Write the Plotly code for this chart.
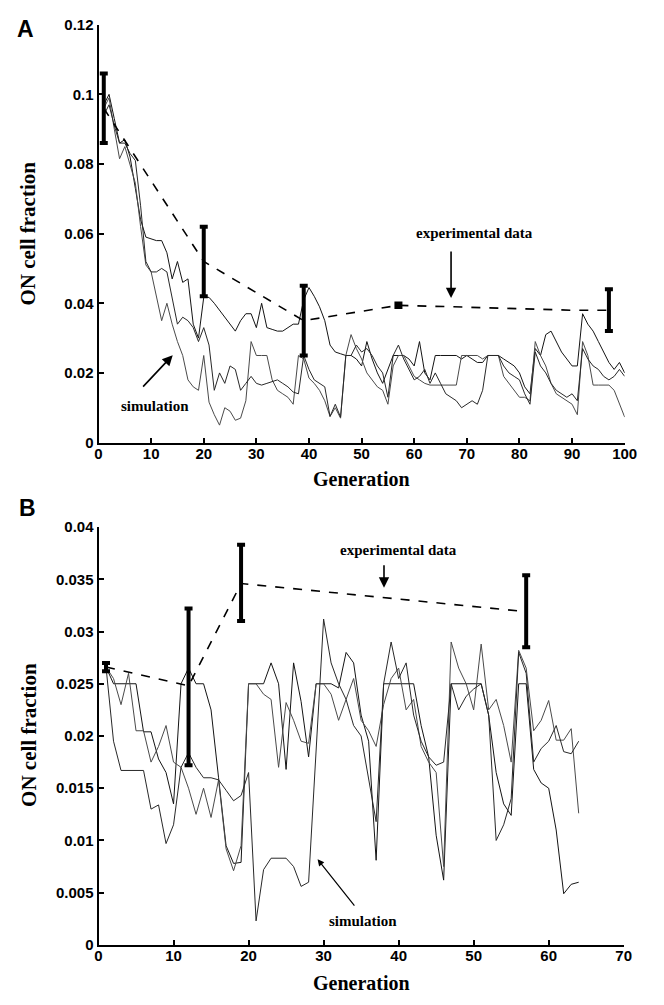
import plotly.graph_objects as go

# ---------------- Panel A data ----------------
gen_a = list(range(1, 101))
sim_a1 = [0.097, 0.100, 0.093, 0.086, 0.087, 0.082, 0.073, 0.064, 0.059, 0.0585,
          0.058, 0.058, 0.0545, 0.047, 0.052, 0.046, 0.047, 0.034, 0.030, 0.0417,
          0.0417, 0.040, 0.038, 0.036, 0.034, 0.032, 0.035, 0.037, 0.037, 0.033,
          0.040, 0.033, 0.0325, 0.032, 0.032, 0.033, 0.034, 0.034, 0.041, 0.0445,
          0.042, 0.039, 0.035, 0.028, 0.026, 0.0255, 0.025, 0.025, 0.024, 0.022,
          0.029, 0.024, 0.020, 0.017, 0.021, 0.025, 0.025, 0.025, 0.024, 0.022,
          0.029, 0.020, 0.018, 0.025, 0.025, 0.025, 0.025, 0.025, 0.024, 0.025,
          0.024, 0.023, 0.023, 0.025, 0.025, 0.025, 0.024, 0.023, 0.022, 0.020,
          0.016, 0.014, 0.027, 0.025, 0.031, 0.032, 0.029, 0.026, 0.024, 0.022,
          0.022, 0.037, 0.034, 0.032, 0.029, 0.026, 0.023, 0.021, 0.023, 0.020]
sim_a2 = [0.096, 0.099, 0.090, 0.0815, 0.085, 0.080, 0.0745, 0.062, 0.051, 0.049,
          0.042, 0.035, 0.040, 0.034, 0.029, 0.025, 0.018, 0.016, 0.015, 0.025,
          0.0116, 0.008, 0.005, 0.010, 0.009, 0.0064, 0.007, 0.012, 0.029, 0.025,
          0.025, 0.025, 0.018, 0.015, 0.014, 0.013, 0.011, 0.025, 0.024, 0.0185,
          0.017, 0.015, 0.012, 0.0075, 0.010, 0.007, 0.025, 0.031, 0.027, 0.024,
          0.020, 0.018, 0.016, 0.015, 0.011, 0.022, 0.025, 0.025, 0.022, 0.019,
          0.018, 0.017, 0.0165, 0.0165, 0.0165, 0.0165, 0.0165, 0.0165, 0.025, 0.025,
          0.025, 0.025, 0.024, 0.025, 0.025, 0.025, 0.019, 0.017, 0.015, 0.013,
          0.013, 0.012, 0.029, 0.025, 0.022, 0.017, 0.014, 0.013, 0.012, 0.011,
          0.008, 0.029, 0.025, 0.0165, 0.0165, 0.0165, 0.0165, 0.015, 0.011, 0.0073]
sim_a3 = [0.094, 0.097, 0.091, 0.086, 0.086, 0.083, 0.081, 0.068, 0.052, 0.049,
          0.049, 0.050, 0.049, 0.041, 0.034, 0.036, 0.035, 0.033, 0.029, 0.033,
          0.028, 0.015, 0.020, 0.017, 0.022, 0.021, 0.015, 0.017, 0.019, 0.017,
          0.0165, 0.017, 0.0175, 0.018, 0.017, 0.016, 0.0145, 0.014, 0.025, 0.021,
          0.018, 0.017, 0.016, 0.0075, 0.011, 0.0073, 0.025, 0.025, 0.028, 0.026,
          0.027, 0.025, 0.022, 0.020, 0.013, 0.025, 0.028, 0.024, 0.021, 0.018,
          0.019, 0.021, 0.017, 0.020, 0.017, 0.014, 0.013, 0.012, 0.010, 0.011,
          0.012, 0.011, 0.015, 0.025, 0.025, 0.025, 0.022, 0.020, 0.019, 0.018,
          0.014, 0.011, 0.026, 0.022, 0.020, 0.017, 0.015, 0.014, 0.013, 0.014,
          0.012, 0.027, 0.024, 0.022, 0.021, 0.019, 0.018, 0.019, 0.021, 0.019]

exp_a_gen = [1, 20, 39, 57, 67, 90, 97]
exp_a_val = [0.096, 0.052, 0.035, 0.0394, 0.039, 0.038, 0.038]
err_a_gen = [1, 20, 39, 57, 97]
err_a_val = [0.096, 0.052, 0.035, 0.0394, 0.038]
err_a_sd = [0.010, 0.010, 0.010, 0.0005, 0.006]

# ---------------- Panel B data ----------------
gen_b = list(range(1, 65))
sim_b1 = [0.0266, 0.025, 0.025, 0.025, 0.025, 0.0204, 0.0204, 0.0178, 0.0165, 0.0135,
          0.025, 0.0265, 0.025, 0.025, 0.0225, 0.016, 0.0095, 0.0078, 0.0079, 0.025,
          0.025, 0.025, 0.027, 0.025, 0.0168, 0.027, 0.0233, 0.018, 0.025, 0.025,
          0.025, 0.0246, 0.028, 0.027, 0.022, 0.0195, 0.0081, 0.025, 0.025, 0.025,
          0.025, 0.025, 0.021, 0.018, 0.0105, 0.0062, 0.025, 0.025, 0.025, 0.025,
          0.025, 0.022, 0.0165, 0.0135, 0.0124, 0.025, 0.025, 0.0168, 0.0155, 0.015,
          0.011, 0.0049, 0.0058, 0.006]
sim_b2 = [0.0266, 0.0255, 0.023, 0.026, 0.0205, 0.0205, 0.0175, 0.019, 0.021, 0.0175,
          0.017, 0.015, 0.0125, 0.015, 0.0122, 0.0158, 0.0092, 0.0071, 0.0095, 0.025,
          0.025, 0.024, 0.0235, 0.017, 0.0232, 0.0215, 0.0195, 0.0193, 0.025, 0.025,
          0.024, 0.0215, 0.0235, 0.0255, 0.0215, 0.0205, 0.019, 0.023, 0.0255, 0.0265,
          0.0225, 0.0235, 0.019, 0.0175, 0.0165, 0.0075, 0.029, 0.0265, 0.025, 0.0225,
          0.0288, 0.0225, 0.0235, 0.021, 0.0175, 0.0282, 0.0265, 0.0205, 0.0215, 0.0234,
          0.0196, 0.0196, 0.0207, 0.0126]
sim_b3 = [0.0266, 0.0195, 0.0167, 0.0167, 0.0167, 0.0167, 0.013, 0.0134, 0.0097, 0.0115,
          0.017, 0.0184, 0.017, 0.016, 0.016, 0.0158, 0.0148, 0.0138, 0.0143, 0.0165,
          0.0023, 0.0072, 0.0083, 0.0083, 0.0083, 0.0075, 0.0056, 0.006, 0.018, 0.0312,
          0.027, 0.025, 0.0235, 0.021, 0.020, 0.016, 0.0118, 0.025, 0.029, 0.0255,
          0.027, 0.022, 0.0195, 0.018, 0.0172, 0.0175, 0.025, 0.0225, 0.0238, 0.0245,
          0.025, 0.022, 0.010, 0.0115, 0.014, 0.028, 0.026, 0.0175, 0.0188, 0.0195,
          0.021, 0.0185, 0.0183, 0.0195]

exp_b_gen = [1, 12, 19, 57]
exp_b_val = [0.0266, 0.0248, 0.0346, 0.0319]
err_b_lo = [0.0004, 0.0076, 0.0036, 0.0034]
err_b_hi = [0.0004, 0.0074, 0.0037, 0.0035]

ticks_a = [0, 0.02, 0.04, 0.06, 0.08, 0.1, 0.12]
ticks_b = [0, 0.005, 0.01, 0.015, 0.02, 0.025, 0.03, 0.035, 0.04]

SIM_COLORS = ["#141414", "#4a4a4a", "#282828"]
SERIF = "Liberation Serif, Times New Roman, serif"
SANS = "Liberation Sans, Arial, sans-serif"

fig = go.Figure()

for ys, c in zip([sim_a1, sim_a2, sim_a3], SIM_COLORS):
    fig.add_trace(go.Scatter(x=gen_a, y=ys, mode="lines", line=dict(color=c, width=1),
                             xaxis="x", yaxis="y", showlegend=False))
fig.add_trace(go.Scatter(x=exp_a_gen, y=exp_a_val, mode="lines",
                         line=dict(color="black", width=1.6, dash="dash"),
                         xaxis="x", yaxis="y", showlegend=False))
fig.add_trace(go.Scatter(x=err_a_gen, y=err_a_val, mode="markers",
                         marker=dict(size=1, color="rgba(0,0,0,0)"),
                         error_y=dict(type="data", array=err_a_sd, color="black",
                                      thickness=4, width=4),
                         xaxis="x", yaxis="y", showlegend=False))

for ys, c in zip([sim_b1, sim_b2, sim_b3], SIM_COLORS):
    fig.add_trace(go.Scatter(x=gen_b, y=ys, mode="lines", line=dict(color=c, width=1),
                             xaxis="x2", yaxis="y2", showlegend=False))
fig.add_trace(go.Scatter(x=exp_b_gen, y=exp_b_val, mode="lines",
                         line=dict(color="black", width=1.6, dash="dash"),
                         xaxis="x2", yaxis="y2", showlegend=False))
fig.add_trace(go.Scatter(x=exp_b_gen, y=exp_b_val, mode="markers",
                         marker=dict(size=1, color="rgba(0,0,0,0)"),
                         error_y=dict(type="data", symmetric=False, array=err_b_hi,
                                      arrayminus=err_b_lo, color="black",
                                      thickness=4, width=4),
                         xaxis="x2", yaxis="y2", showlegend=False))

W, H = 664, 1005
axis_common = dict(showline=True, linecolor="black", linewidth=2, ticks="inside",
                   ticklen=5, tickwidth=2, tickcolor="black", showgrid=False,
                   zeroline=False, mirror=False,
                   tickfont=dict(family=SANS, size=15, color="black", weight="bold"))

fig.update_layout(
    width=W, height=H, margin=dict(l=0, r=0, t=0, b=0),
    paper_bgcolor="white", plot_bgcolor="white",
    xaxis=dict(domain=[97 / W, 637 / W], range=[0, 100], tickvals=list(range(0, 101, 10)),
               anchor="y", ticklabelstandoff=-4, **axis_common),
    yaxis=dict(domain=[1 - 441 / H, 1 - 16 / H], range=[0, 0.12], tickvals=ticks_a,
               anchor="x", **axis_common),
    xaxis2=dict(domain=[97 / W, 636 / W], range=[0, 70], tickvals=list(range(0, 71, 10)),
                anchor="y2", ticklabelstandoff=-4, **axis_common),
    yaxis2=dict(domain=[1 - 952 / H, 1 - 527 / H], range=[0, 0.04], tickvals=ticks_b,
                anchor="x2", **axis_common),
)

label_font = dict(family=SERIF, size=20, color="black", weight="bold")
ylabel_font = dict(family=SERIF, size=21, color="black", weight="bold")
note_font = dict(family=SERIF, size=15, color="black", weight="bold")
letter_font = dict(family=SANS, size=23, color="black", weight="bold")

ann = []
ann.append(dict(text="A", x=11 / W, y=1 - 20 / H, xref="paper", yref="paper",
                showarrow=False, font=letter_font, xanchor="left", yanchor="middle"))
ann.append(dict(text="B", x=13 / W, y=1 - 508 / H, xref="paper", yref="paper",
                showarrow=False, font=letter_font, xanchor="left", yanchor="middle"))
ann.append(dict(text="Generation", x=367 / W, y=1 - 478 / H, xref="paper", yref="paper",
                showarrow=False, font=label_font, xanchor="center", yanchor="middle"))
ann.append(dict(text="Generation", x=367 / W, y=1 - 991 / H, xref="paper", yref="paper",
                showarrow=False, font=label_font, xanchor="center", yanchor="middle"))
ann.append(dict(text="ON cell fraction", x=25 / W, y=1 - 228 / H, xref="paper",
                yref="paper", showarrow=False, font=ylabel_font, textangle=-90,
                xanchor="center", yanchor="middle"))
ann.append(dict(text="ON cell fraction", x=25 / W, y=1 - 738 / H, xref="paper",
                yref="paper", showarrow=False, font=ylabel_font, textangle=-90,
                xanchor="center", yanchor="middle"))
ann.append(dict(text="experimental data", x=71.5, y=0.0603, xref="x", yref="y",
                showarrow=False, font=note_font))
ann.append(dict(text="", x=67, y=0.0415, xref="x", yref="y", showarrow=True,
                ax=0, ay=-48, arrowhead=2, arrowsize=1.3, arrowwidth=1.6, arrowcolor="black"))
ann.append(dict(text="simulation", x=10.7, y=0.0104, xref="x", yref="y",
                showarrow=False, font=note_font))
ann.append(dict(text="", x=14.1, y=0.0251, xref="x", yref="y", showarrow=True,
                ax=-31, ay=33, arrowhead=2, arrowsize=1.3, arrowwidth=1.6, arrowcolor="black"))
ann.append(dict(text="experimental data", x=40, y=0.0378, xref="x2", yref="y2",
                showarrow=False, font=note_font))
ann.append(dict(text="", x=38.05, y=0.0342, xref="x2", yref="y2", showarrow=True,
                ax=0, ay=-24, arrowhead=2, arrowsize=1.3, arrowwidth=1.6, arrowcolor="black"))
ann.append(dict(text="simulation", x=35.2, y=0.00225, xref="x2", yref="y2",
                showarrow=False, font=note_font))
ann.append(dict(text="", x=29.2, y=0.0082, xref="x2", yref="y2", showarrow=True,
                ax=38, ay=48, arrowhead=2, arrowsize=1.1, arrowwidth=1.2, arrowcolor="black"))

fig.update_layout(annotations=ann)
fig.write_html(
    "out.html",
    config={"displayModeBar": False},
    post_script=("document.documentElement.style.margin='0';"
                 "document.documentElement.style.overflow='hidden';"
                 "document.body.style.margin='0';document.body.style.padding='0';"
                 "document.body.style.overflow='hidden';"),
)
